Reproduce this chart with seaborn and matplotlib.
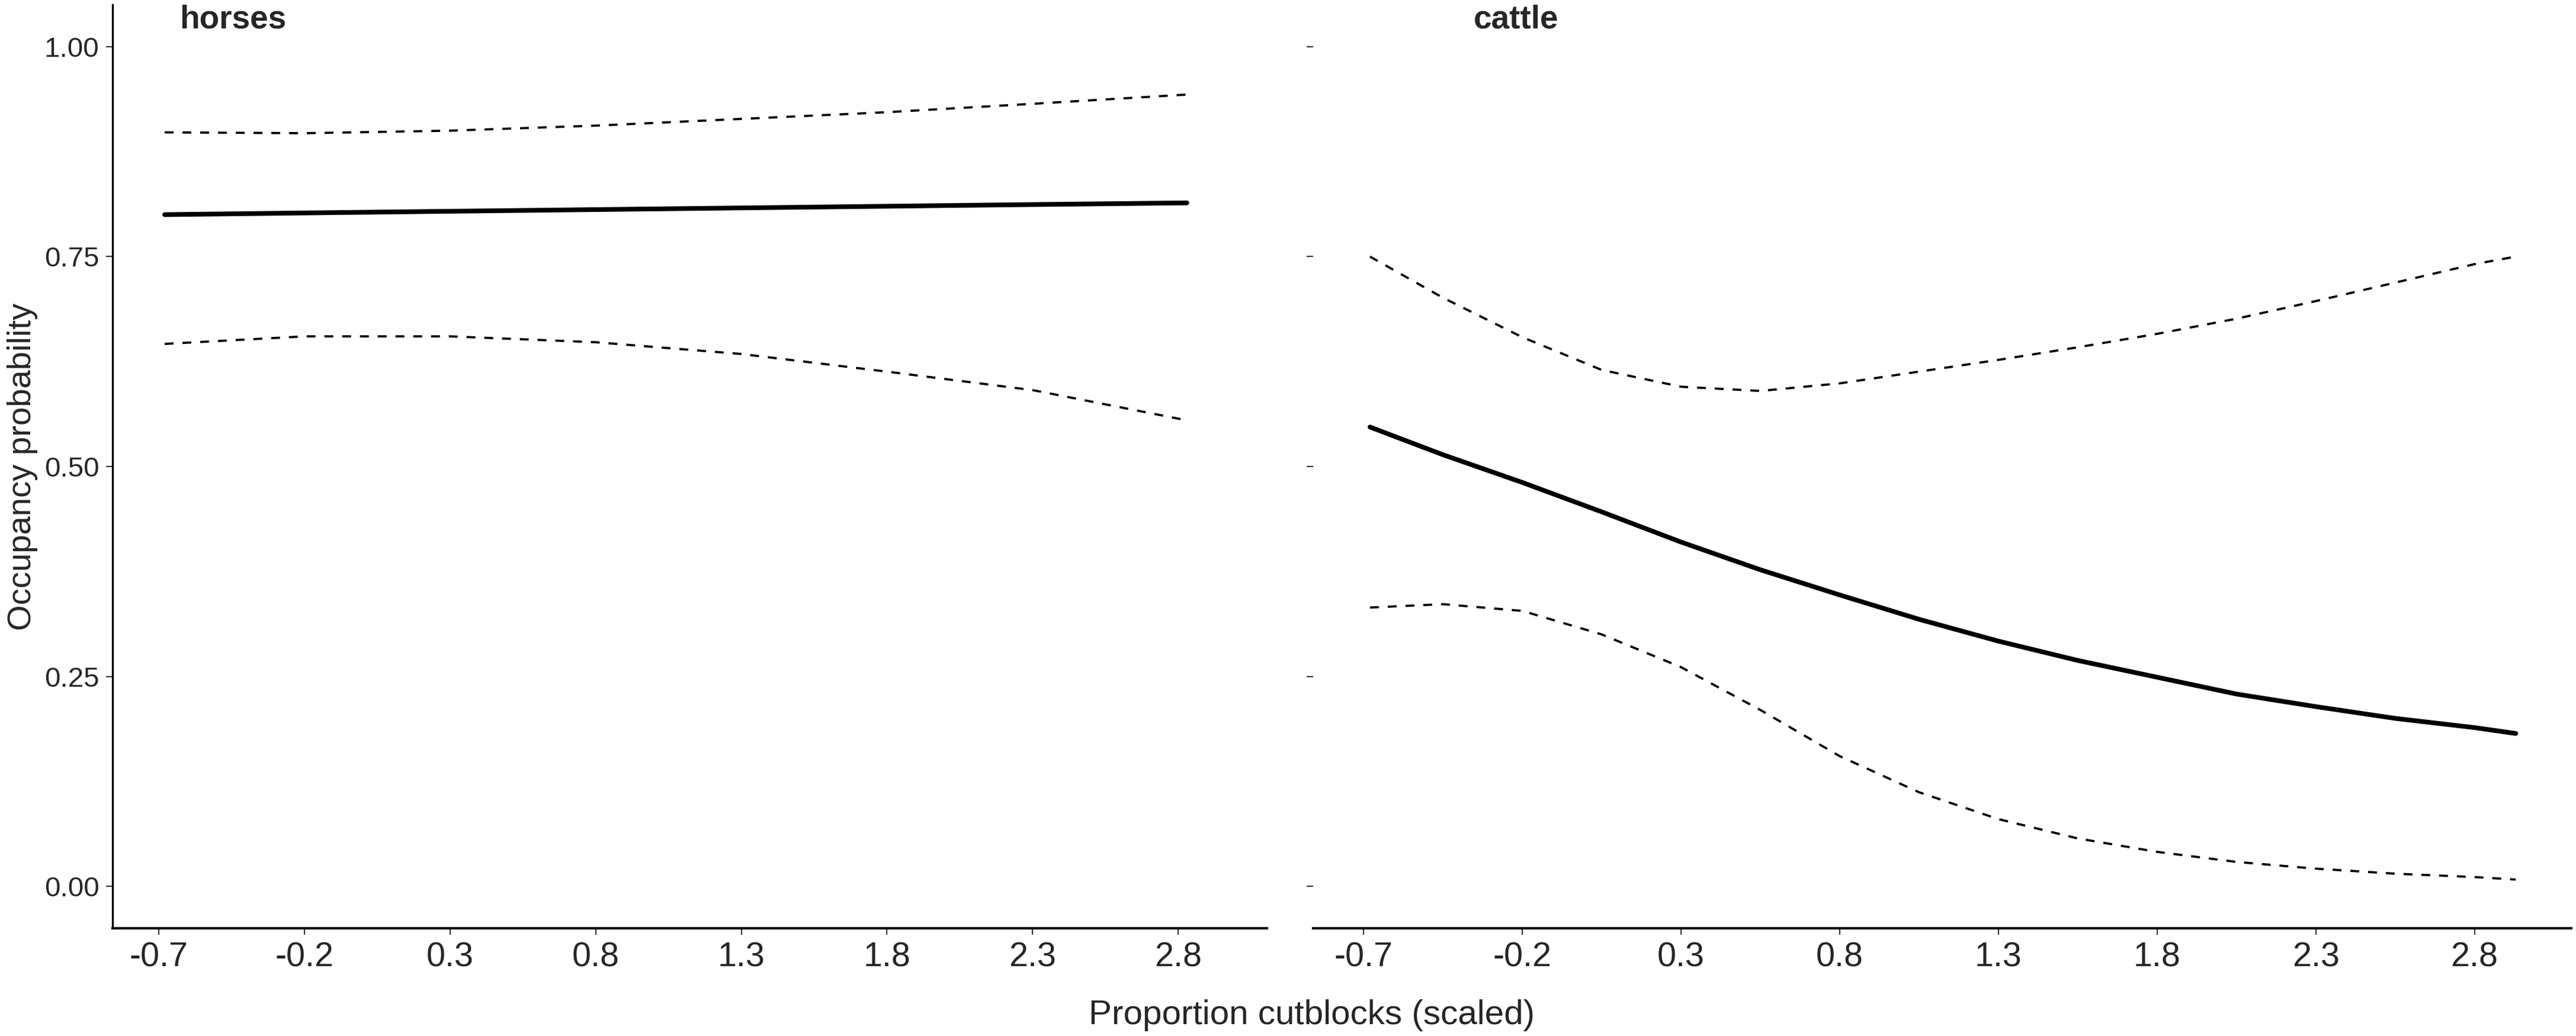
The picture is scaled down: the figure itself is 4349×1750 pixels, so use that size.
import matplotlib
matplotlib.use("Agg")
import matplotlib.pyplot as plt
import seaborn as sns
import pandas as pd

# values
horses_x = [-0.68, -0.2, 0.3, 0.8, 1.3, 1.8, 2.3, 2.83]
horses_fit = [0.800, 0.802, 0.804, 0.806, 0.808, 0.810, 0.812, 0.814]
horses_upper = [0.898, 0.897, 0.900, 0.906, 0.914, 0.922, 0.932, 0.943]
horses_lower = [0.646, 0.655, 0.655, 0.648, 0.634, 0.613, 0.591, 0.555]

cattle_x = [-0.68, -0.45, -0.2, 0.05, 0.3, 0.55, 0.8, 1.05, 1.3, 1.55,
            1.8, 2.05, 2.3, 2.55, 2.8, 2.93]
cattle_fit = [0.547, 0.514, 0.481, 0.446, 0.410, 0.377, 0.347, 0.318, 0.292,
              0.269, 0.249, 0.229, 0.214, 0.200, 0.189, 0.182]
cattle_upper = [0.750, 0.701, 0.654, 0.615, 0.595, 0.590, 0.599, 0.613, 0.627,
                0.642, 0.658, 0.676, 0.697, 0.719, 0.741, 0.750]
cattle_lower = [0.332, 0.336, 0.328, 0.300, 0.261, 0.210, 0.155, 0.112, 0.080,
                0.057, 0.041, 0.029, 0.021, 0.015, 0.011, 0.008]

x_ticks = [-0.7, -0.2, 0.3, 0.8, 1.3, 1.8, 2.3, 2.8]
y_ticks = [0.00, 0.25, 0.50, 0.75, 1.00]

sns.set_style("white")
plt.rcParams["font.family"] = ["Liberation Sans", "DejaVu Sans"]

W, H = 4349, 1750
fig = plt.figure(figsize=(W / 300, H / 300), dpi=300)

ax_h = fig.add_axes([190 / W, 1 - 1568 / H, (2139 - 190) / W, (1568 - 8) / H])
ax_c = fig.add_axes([2217 / W, 1 - 1568 / H, (4341 - 2217) / W, (1568 - 8) / H])


def draw(ax, x, fit, upper, lower):
    df = pd.DataFrame({"x": x, "fit": fit, "upper": upper, "lower": lower})
    sns.lineplot(data=df, x="x", y="fit", ax=ax, color="black", linewidth=1.9)
    sns.lineplot(data=df, x="x", y="upper", ax=ax, color="black",
                 linewidth=0.9, dashes=(4, 4))
    sns.lineplot(data=df, x="x", y="lower", ax=ax, color="black",
                 linewidth=0.9, dashes=(4, 4))
    ax.set_xlim(-0.859, 3.105)
    ax.set_ylim(-0.05, 1.05)
    ax.set_xticks(x_ticks)
    ax.set_xticklabels([f"{t:.1f}" for t in x_ticks], fontsize=13.8)
    ax.set_yticks(y_ticks)
    ax.set_xlabel("")
    ax.set_ylabel("")
    for s in ["top", "right"]:
        ax.spines[s].set_visible(False)
    ax.spines["bottom"].set_linewidth(1.0)
    ax.spines["bottom"].set_color("black")
    ax.tick_params(axis="both", which="major", length=2.6, width=0.5,
                   color="#333333", pad=2.8, left=True, bottom=True)


draw(ax_h, horses_x, horses_fit, horses_upper, horses_lower)
draw(ax_c, cattle_x, cattle_fit, cattle_upper, cattle_lower)

ax_h.spines["left"].set_linewidth(0.8)
ax_h.spines["left"].set_color("black")
ax_h.set_yticklabels([f"{t:.2f}" for t in y_ticks], fontsize=11.4)
ax_c.spines["left"].set_visible(False)
ax_c.tick_params(axis="y", labelleft=False)

fig.text(303 / W, 1 - 48 / H, "horses", fontsize=13.2, fontweight="bold",
         ha="left", va="baseline")
fig.text(2488 / W, 1 - 48 / H, "cattle", fontsize=13.2, fontweight="bold",
         ha="left", va="baseline")
fig.text(2215 / W, 1 - 1730 / H, "Proportion cutblocks (scaled)", fontsize=14,
         ha="center", va="baseline")
fig.text(38 / W, 0.5 * (1 - 1568 / H) + 0.5 * (1 - 8 / H), "Occupancy probability",
         fontsize=13.5, rotation=90, ha="center", va="center")

fig.savefig("out.png", dpi=300, facecolor="white")
